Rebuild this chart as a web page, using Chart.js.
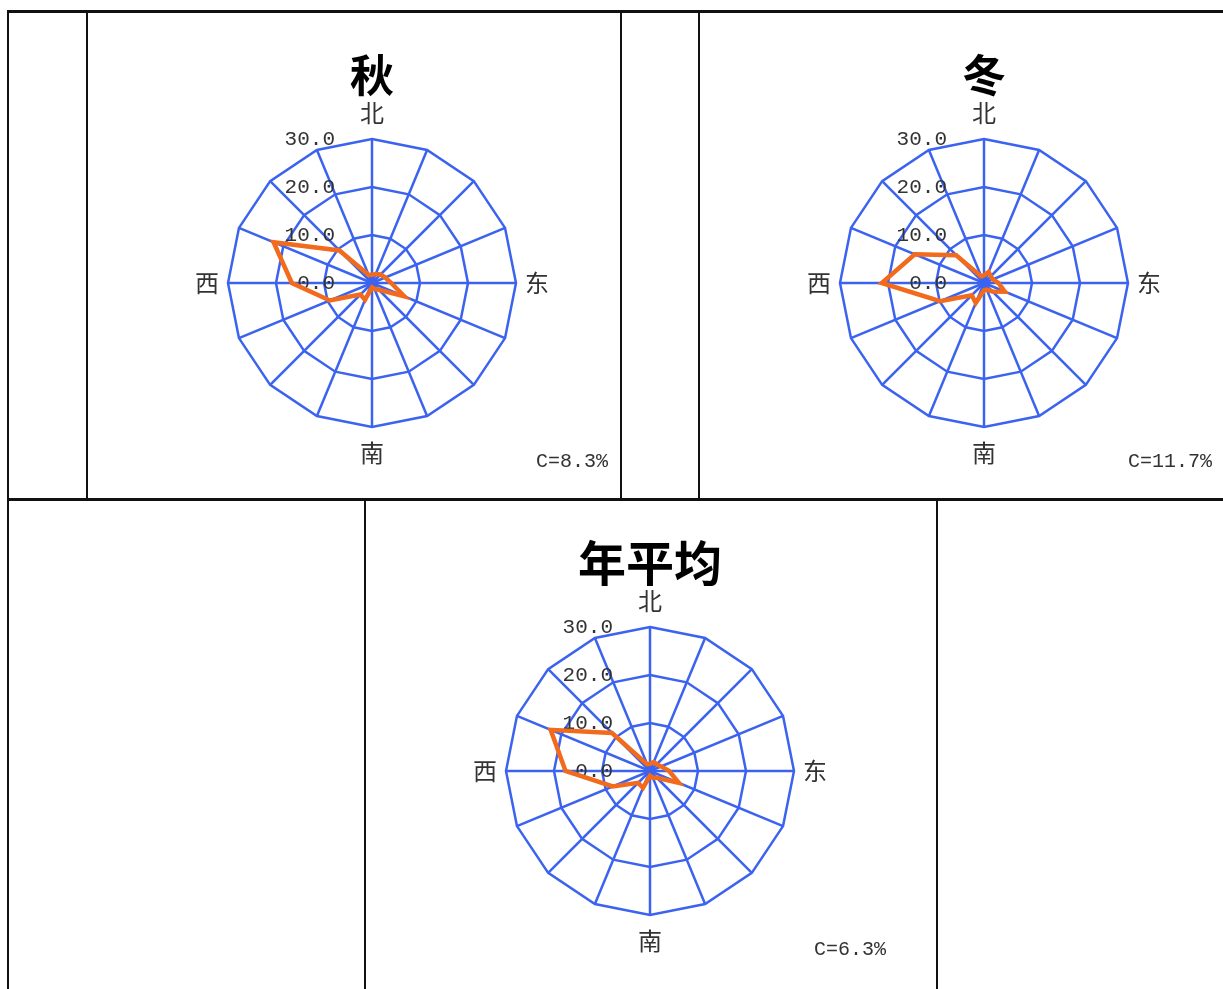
<!DOCTYPE html>
<html>
<head>
<meta charset="utf-8">
<title>风向玫瑰图</title>
<script src="https://cdn.jsdelivr.net/npm/chart.js@4.4.1/dist/chart.umd.min.js"></script>
<style>
    body { margin: 0; background: #fff; width: 1223px; height: 989px; overflow: hidden; position: relative; }
    .box { position: absolute; width: 570px; height: 490px; }
    .line { position: absolute; background: #111; z-index: 2; }
</style>
</head>
<body>
<div class="box" style="left:87px; top:11px"><canvas id="autumn"></canvas></div>
<div class="box" style="left:699px; top:11px"><canvas id="winter"></canvas></div>
<div class="box" style="left:365px; top:499px"><canvas id="annual"></canvas></div>

<div class="line" style="left:7px; top:10px; width:1216px; height:3px"></div>
<div class="line" style="left:7px; top:10px; width:2px; height:979px"></div>
<div class="line" style="left:86px; top:10px; width:2px; height:490px"></div>
<div class="line" style="left:620px; top:10px; width:2px; height:490px"></div>
<div class="line" style="left:698px; top:10px; width:2px; height:490px"></div>
<div class="line" style="left:7px; top:498px; width:1216px; height:3px"></div>
<div class="line" style="left:364px; top:499px; width:2px; height:490px"></div>
<div class="line" style="left:936px; top:499px; width:2px; height:490px"></div>

<script>
// 16 directions clockwise from north, only the four main ones are labelled
const directions = ['北', '', '', '', '东', '', '', '', '南', '', '', '', '西', '', '', ''];

// frequency (%) per direction: N, NNE, NE, ENE, E, ESE, SE, SSE, S, SSW, SW, WSW, W, WNW, NW, NNW
const autumnValues = [1.7, 2.0, 2.5, 3.0, 4.0, 7.3, 2.0, 1.3, 0.9, 3.8, 3.4, 9.5, 16.7, 22.2, 9.6, 1.8];
const winterValues = [1.6, 2.5, 2.0, 2.0, 3.0, 4.7, 2.5, 1.5, 1.5, 4.5, 3.6, 9.9, 21.3, 15.6, 8.2, 1.5];
const annualValues = [1.5, 2.0, 2.0, 2.5, 4.0, 6.5, 2.0, 1.5, 1.0, 3.8, 3.5, 8.4, 17.6, 22.4, 11.2, 1.5];

const titles = ['秋', '冬', '年平均'];
const calmTexts = ['C=8.3%', 'C=11.7%', 'C=6.3%'];

const blue = '#3b63f0';
const orange = '#f26a1b';

const roseLabels = {
    id: 'roseLabels',
    beforeDatasetsDraw(chart) {
        const r = chart.scales.r;
        const ctx = chart.ctx;
        ctx.save();
        ctx.fillStyle = '#333';
        ctx.font = '21px "Liberation Mono"';
        ctx.textAlign = 'right';
        ctx.textBaseline = 'middle';
        r.ticks.forEach(t => {
            const y = r.yCenter - r.getDistanceFromCenterForValue(t.value);
            ctx.fillText(t.value.toFixed(1), r.xCenter - 37, y);
        });
        ctx.font = '24px "Noto Sans CJK SC"';
        ctx.textAlign = 'center';
        chart.data.labels.forEach((lab, i) => {
            if (!lab) return;
            const pos = r.getPointPosition(i, r.drawingArea + (i % 8 === 0 ? 26 : 21));
            ctx.fillText(lab, pos.x, pos.y);
        });
        // small dot where the spokes meet
        ctx.fillStyle = blue;
        ctx.beginPath();
        ctx.arc(r.xCenter, r.yCenter, 4, 0, Math.PI * 2);
        ctx.fill();
        ctx.restore();
    }
};

function makeRose(id, values, title, calm, titleSize, sidePad) {
    new Chart(document.getElementById(id), {
        type: 'radar',
        data: {
            labels: directions,
            datasets: [{
                data: values,
                borderColor: orange,
                borderWidth: 4.5,
                fill: false,
                pointRadius: 0,
                tension: 0
            }]
        },
        options: {
            responsive: true,
            maintainAspectRatio: false,
            animation: false,
            layout: { padding: { left: sidePad, right: sidePad } },
            plugins: {
                legend: { display: false },
                tooltip: { enabled: false },
                title: {
                    display: true,
                    text: title,
                    color: '#000',
                    font: { size: titleSize, weight: 'bold', family: '"Noto Sans CJK SC"' },
                    padding: { top: 64 - titleSize * 0.6, bottom: 128.8 - (64 + titleSize * 0.6) }
                },
                subtitle: {
                    display: true,
                    text: calm,
                    position: 'bottom',
                    align: 'end',
                    color: '#333',
                    font: { size: 20, family: '"Liberation Mono"' },
                    padding: { top: 22, bottom: 27 }
                }
            },
            scales: {
                r: {
                    min: 0,
                    max: 30,
                    ticks: { display: false, stepSize: 10 },
                    grid: { color: blue, lineWidth: 2.5 },
                    angleLines: { color: blue, lineWidth: 2.5 },
                    pointLabels: { display: false }
                }
            }
        },
        plugins: [roseLabels]
    });
}

makeRose('autumn', autumnValues, titles[0], calmTexts[0], 44, 49);
makeRose('winter', winterValues, titles[1], calmTexts[1], 44, 57);
makeRose('annual', annualValues, titles[2], calmTexts[2], 48, 49);
</script>
</body>
</html>
